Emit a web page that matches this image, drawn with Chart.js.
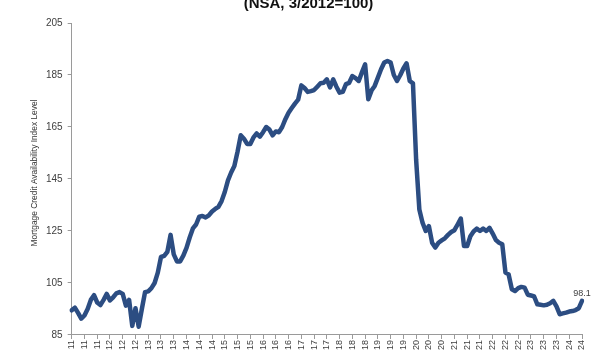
<!DOCTYPE html>
<html lang="en">
<head>
<meta charset="UTF-8">
<title>Mortgage Credit Availability Index</title>
<script src="https://cdn.jsdelivr.net/npm/chart.js"></script>
<style>
  html, body { margin: 0; padding: 0; background: #fff; overflow: hidden; }
  #wrap { position: relative; width: 600px; height: 351px; }
</style>
</head>
<body>
<div id="wrap"><canvas id="mcaiChart"></canvas></div>
<script>
// MCAI monthly, Apr 2011 - Aug 2024 (NSA, 3/2012=100)
const mcai = [
  94.5, 95.5, 93.5, 91.3, 92.5, 95.0, 98.5, 100.3, 97.5, 96.5, 98.5, 100.8,
  98.3, 99.5, 101.0, 101.5, 100.8, 96.3, 98.5, 88.5, 95.3, 88.2, 95.0, 101.5,
  101.8, 103.0, 105.0, 109.0, 115.0, 115.4, 117.0, 123.5, 116.0, 113.3, 113.3, 115.5,
  118.5, 122.5, 126.0, 127.5, 130.5, 130.8, 130.2, 131.0, 132.5, 133.5, 134.3, 136.5,
  140.0, 144.5, 147.5, 150.0, 155.5, 161.8, 160.5, 158.5, 158.5, 161.0, 162.5, 161.3,
  163.0, 165.0, 164.0, 161.8, 163.3, 163.0, 165.0, 168.0, 170.5, 172.3, 174.0, 175.5,
  181.0, 180.0, 178.5, 178.8, 179.2, 180.5, 181.8, 182.0, 183.3, 180.2, 183.3, 180.5,
  178.2, 178.5, 181.5, 182.0, 184.6, 183.8, 182.7, 186.0, 189.1, 175.7, 179.0, 180.8,
  184.0, 187.2, 189.8, 190.4, 189.8, 185.0, 182.7, 184.9, 187.5, 189.5, 182.7, 181.8,
  152.3, 133.3, 128.2, 125.0, 126.9, 120.5, 118.6, 120.5, 121.4, 122.2, 123.5, 124.6,
  125.3, 127.5, 129.8, 119.2, 119.2, 123.0, 124.8, 125.9, 125.0, 125.9, 125.0, 126.2,
  124.0, 121.5, 120.5, 119.9, 109.0, 108.3, 102.6, 101.9, 103.0, 103.5, 103.2, 100.5,
  100.2, 99.8, 96.8, 96.6, 96.4, 96.6, 97.2, 98.1, 96.0, 93.0, 93.3, 93.6,
  94.0, 94.2, 94.6, 95.3, 98.1
];

// one axis label every 4 months (Apr, Aug, Dec)
const yearTicks = [
  '11','11','11','12','12','12','13','13','13','14','14','14',
  '15','15','15','16','16','16','17','17','17','18','18','18',
  '19','19','19','20','20','20','21','21','21','22','22','22',
  '23','23','23','24','24'
];

const titleText = '(NSA, 3/2012=100)';
const yTitle = 'Mortgage Credit Availability Index Level';
const lastLabel = '98.1';

const FONT = '"Liberation Sans", Arial, sans-serif';
const labels = mcai.map((v, i) => (i % 4 === 0 ? yearTicks[i / 4] : ''));

// title (clipped at the top), y axis caption and the end label
const extras = {
  id: 'extras',
  afterDraw(chart) {
    const ctx = chart.ctx;
    ctx.save();
    ctx.fillStyle = '#111';
    ctx.font = 'bold 15px ' + FONT;
    ctx.textAlign = 'center';
    ctx.textBaseline = 'alphabetic';
    ctx.fillText(titleText, 308.5, 8);

    ctx.fillStyle = '#333';
    ctx.font = '8.4px ' + FONT;
    ctx.translate(35, 173);
    ctx.rotate(-Math.PI / 2);
    ctx.textBaseline = 'middle';
    ctx.fillText(yTitle, 0, 0);
    ctx.restore();

    const pts = chart.getDatasetMeta(0).data;
    const last = pts[pts.length - 1];
    ctx.save();
    ctx.fillStyle = '#404040';
    ctx.font = '9px ' + FONT;
    ctx.textAlign = 'center';
    ctx.textBaseline = 'bottom';
    ctx.fillText(lastLabel, last.x, last.y - 3);
    ctx.restore();
  }
};

new Chart(document.getElementById('mcaiChart'), {
  type: 'line',
  data: {
    labels: labels,
    datasets: [{
      data: mcai,
      borderColor: '#2c4d82',
      borderWidth: 4.5,
      borderJoinStyle: 'round',
      borderCapStyle: 'round',
      pointRadius: 0,
      tension: 0,
      fill: false
    }]
  },
  options: {
    responsive: true,
    maintainAspectRatio: false,
    animation: false,
    layout: { padding: { left: 41, right: 18, top: 23, bottom: 0 } },
    plugins: {
      legend: { display: false },
      tooltip: { enabled: false }
    },
    scales: {
      x: {
        afterBuildTicks(scale) {
          scale.ticks = scale.ticks.filter(t => t.value % 4 === 0);
        },
        grid: { drawOnChartArea: false, drawTicks: true, tickLength: 4, color: '#9a9a9a' },
        border: { color: '#9a9a9a' },
        ticks: {
          autoSkip: false,
          minRotation: 90,
          maxRotation: 90,
          padding: 1,
          color: '#404040',
          font: { family: FONT, size: 9 }
        }
      },
      y: {
        min: 85,
        max: 205,
        grid: { drawOnChartArea: false, drawTicks: true, tickLength: 4, color: '#9a9a9a' },
        border: { color: '#9a9a9a' },
        ticks: {
          stepSize: 20,
          padding: 5,
          color: '#404040',
          font: { family: FONT, size: 10 }
        }
      }
    }
  },
  plugins: [extras]
});
</script>
</body>
</html>
